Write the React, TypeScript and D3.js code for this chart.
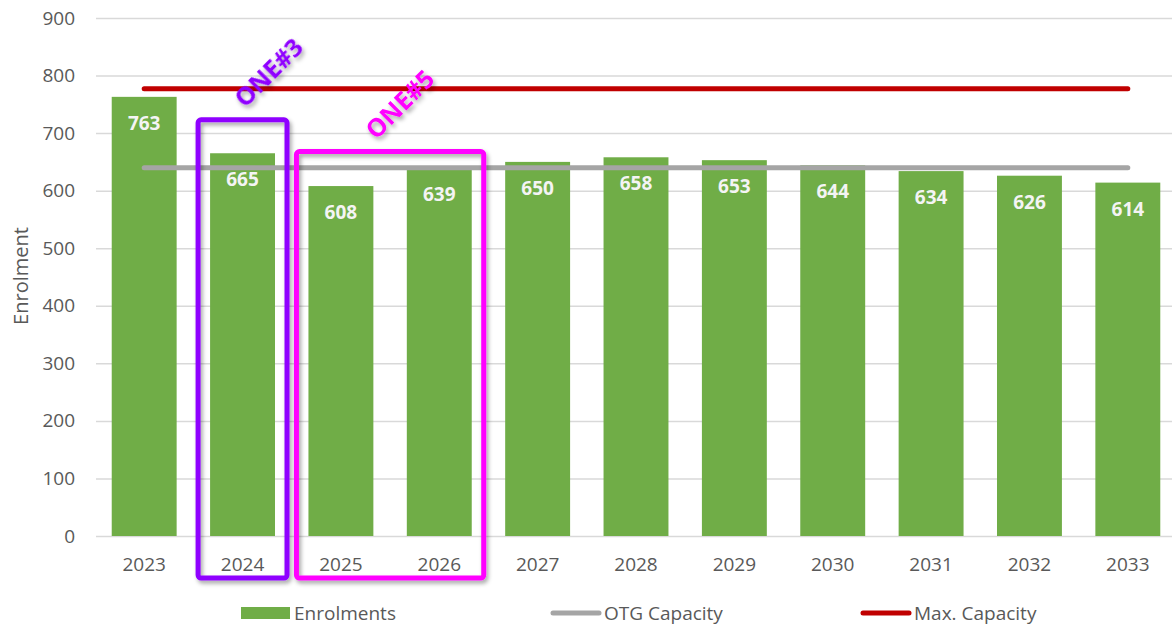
import { useEffect, useRef } from 'react'
import * as d3 from 'd3'

const years = ['2023', '2024', '2025', '2026', '2027', '2028', '2029', '2030', '2031', '2032', '2033']
const enrolments = [763, 665, 608, 639, 650, 658, 653, 644, 634, 626, 614]
const otgCapacity = 640
const maxCapacity = 777
const yTicks = [0, 100, 200, 300, 400, 500, 600, 700, 800, 900]
const legendNames = ['Enrolments', 'OTG Capacity', 'Max. Capacity']

// annotation boxes drawn over the chart
const noteLabels = ['ONE#3', 'ONE#5']
const noteFrom = ['2024', '2025']
const noteTo = ['2024', '2026']
const noteTop = [723, 668]
const noteColors = ['#8F00FF', '#FF00FF']

const W = 1172
const H = 627
const FONT = '"Open Sans", "Noto Sans", sans-serif'

export default function App() {
  const ref = useRef<SVGSVGElement>(null)

  useEffect(() => {
    if (!ref.current) return
    const svg = d3.select(ref.current)
    svg.selectAll('*').remove()

    const left = 96
    const top = 18
    const bottom = 536

    const x = d3.scaleBand<string>()
      .domain(years)
      .range([95, 1177])
      .paddingInner(0.34)
      .paddingOuter(0.17)
    const y = d3.scaleLinear().domain([0, 900]).range([bottom, top])
    const bw = x.bandwidth()

    const defs = svg.append('defs')
    defs.append('filter')
      .attr('id', 'shadow')
      .attr('x', '-20%').attr('y', '-20%').attr('width', '140%').attr('height', '140%')
      .append('feDropShadow')
      .attr('dx', 2).attr('dy', 3).attr('stdDeviation', 2)
      .attr('flood-color', '#000').attr('flood-opacity', 0.35)

    // grid + y axis
    const yAxis = svg.append('g')
      .attr('transform', `translate(${left},0)`)
      .call(d3.axisLeft(y).tickValues(yTicks).tickSize(-(W + 10 - left)).tickPadding(21))
    yAxis.select('.domain').remove()
    yAxis.selectAll('line').attr('stroke', '#D9D9D9').attr('stroke-width', 1.5)
    yAxis.selectAll('text')
      .attr('font-family', FONT).attr('font-size', 19).attr('fill', '#595959')

    // x axis
    const xAxis = svg.append('g')
      .attr('transform', `translate(0,${bottom})`)
      .call(d3.axisBottom(x).tickSize(0).tickPadding(22))
    xAxis.select('.domain').remove()
    xAxis.selectAll('text')
      .attr('font-family', FONT).attr('font-size', 19).attr('fill', '#595959')

    svg.append('text')
      .attr('transform', `translate(20,276) rotate(-90)`)
      .attr('text-anchor', 'middle')
      .attr('dominant-baseline', 'central')
      .attr('font-family', FONT).attr('font-size', 20).attr('fill', '#595959')
      .text('Enrolment')

    // bars
    svg.append('g').selectAll('rect')
      .data(enrolments)
      .join('rect')
      .attr('x', (_, i) => x(years[i])!)
      .attr('y', d => y(d))
      .attr('width', bw)
      .attr('height', d => bottom - y(d))
      .attr('fill', '#70AD47')

    // capacity lines
    const x0 = x(years[0])! + bw / 2
    const x1 = x(years[years.length - 1])! + bw / 2
    svg.append('line')
      .attr('x1', x0).attr('x2', x1).attr('y1', y(otgCapacity)).attr('y2', y(otgCapacity))
      .attr('stroke', '#A5A5A5').attr('stroke-width', 5).attr('stroke-linecap', 'round')
    svg.append('line')
      .attr('x1', x0).attr('x2', x1).attr('y1', y(maxCapacity)).attr('y2', y(maxCapacity))
      .attr('stroke', '#C00000').attr('stroke-width', 5).attr('stroke-linecap', 'round')

    // data labels
    svg.append('g').selectAll('text')
      .data(enrolments)
      .join('text')
      .attr('x', (_, i) => x(years[i])! + bw / 2)
      .attr('y', d => y(d) + 33)
      .attr('text-anchor', 'middle')
      .attr('font-family', FONT).attr('font-size', 19).attr('font-weight', 'bold')
      .attr('fill', '#F4F4F4')
      .text(d => d)

    // annotation boxes
    noteLabels.forEach((label, i) => {
      const bx1 = x(noteFrom[i])! - 12
      const bx2 = x(noteTo[i])! + bw + 12
      const by1 = y(noteTop[i])
      const by2 = bottom + 42
      const g = svg.append('g').attr('filter', 'url(#shadow)')
      g.append('rect')
        .attr('x', bx1).attr('y', by1)
        .attr('width', bx2 - bx1).attr('height', by2 - by1)
        .attr('rx', 3)
        .attr('fill', 'none')
        .attr('stroke', noteColors[i]).attr('stroke-width', 5)
      const cx = i === 0 ? bx2 - 19 : (bx1 + bx2) / 2 + 9
      g.append('text')
        .attr('transform', `translate(${cx},${by1 - 48}) rotate(-45)`)
        .attr('text-anchor', 'middle')
        .attr('dominant-baseline', 'central')
        .attr('font-family', FONT).attr('font-size', 25).attr('font-weight', 'bold')
        .attr('fill', noteColors[i])
        .text(label)
    })

    // legend
    const lx = d3.scalePoint<string>().domain(legendNames).range([241, 861])
    const ly = 613
    const lg = svg.append('g')
    legendNames.forEach((name, i) => {
      const px = lx(name)!
      if (i === 0) {
        lg.append('rect').attr('x', px).attr('y', ly - 6).attr('width', 49).attr('height', 12).attr('fill', '#70AD47')
      } else {
        lg.append('line')
          .attr('x1', px + 2).attr('x2', px + 48).attr('y1', ly).attr('y2', ly)
          .attr('stroke', i === 1 ? '#A5A5A5' : '#C00000')
          .attr('stroke-width', 5).attr('stroke-linecap', 'round')
      }
      lg.append('text')
        .attr('x', px + 53).attr('y', ly)
        .attr('dominant-baseline', 'central')
        .attr('font-family', FONT).attr('font-size', 19).attr('fill', '#595959')
        .text(name)
    })
  }, [])

  return (
    <svg
      ref={ref}
      width={W}
      height={H}
      style={{ display: 'block', position: 'absolute', left: 0, top: 0, background: '#fff' }}
    />
  )
}
